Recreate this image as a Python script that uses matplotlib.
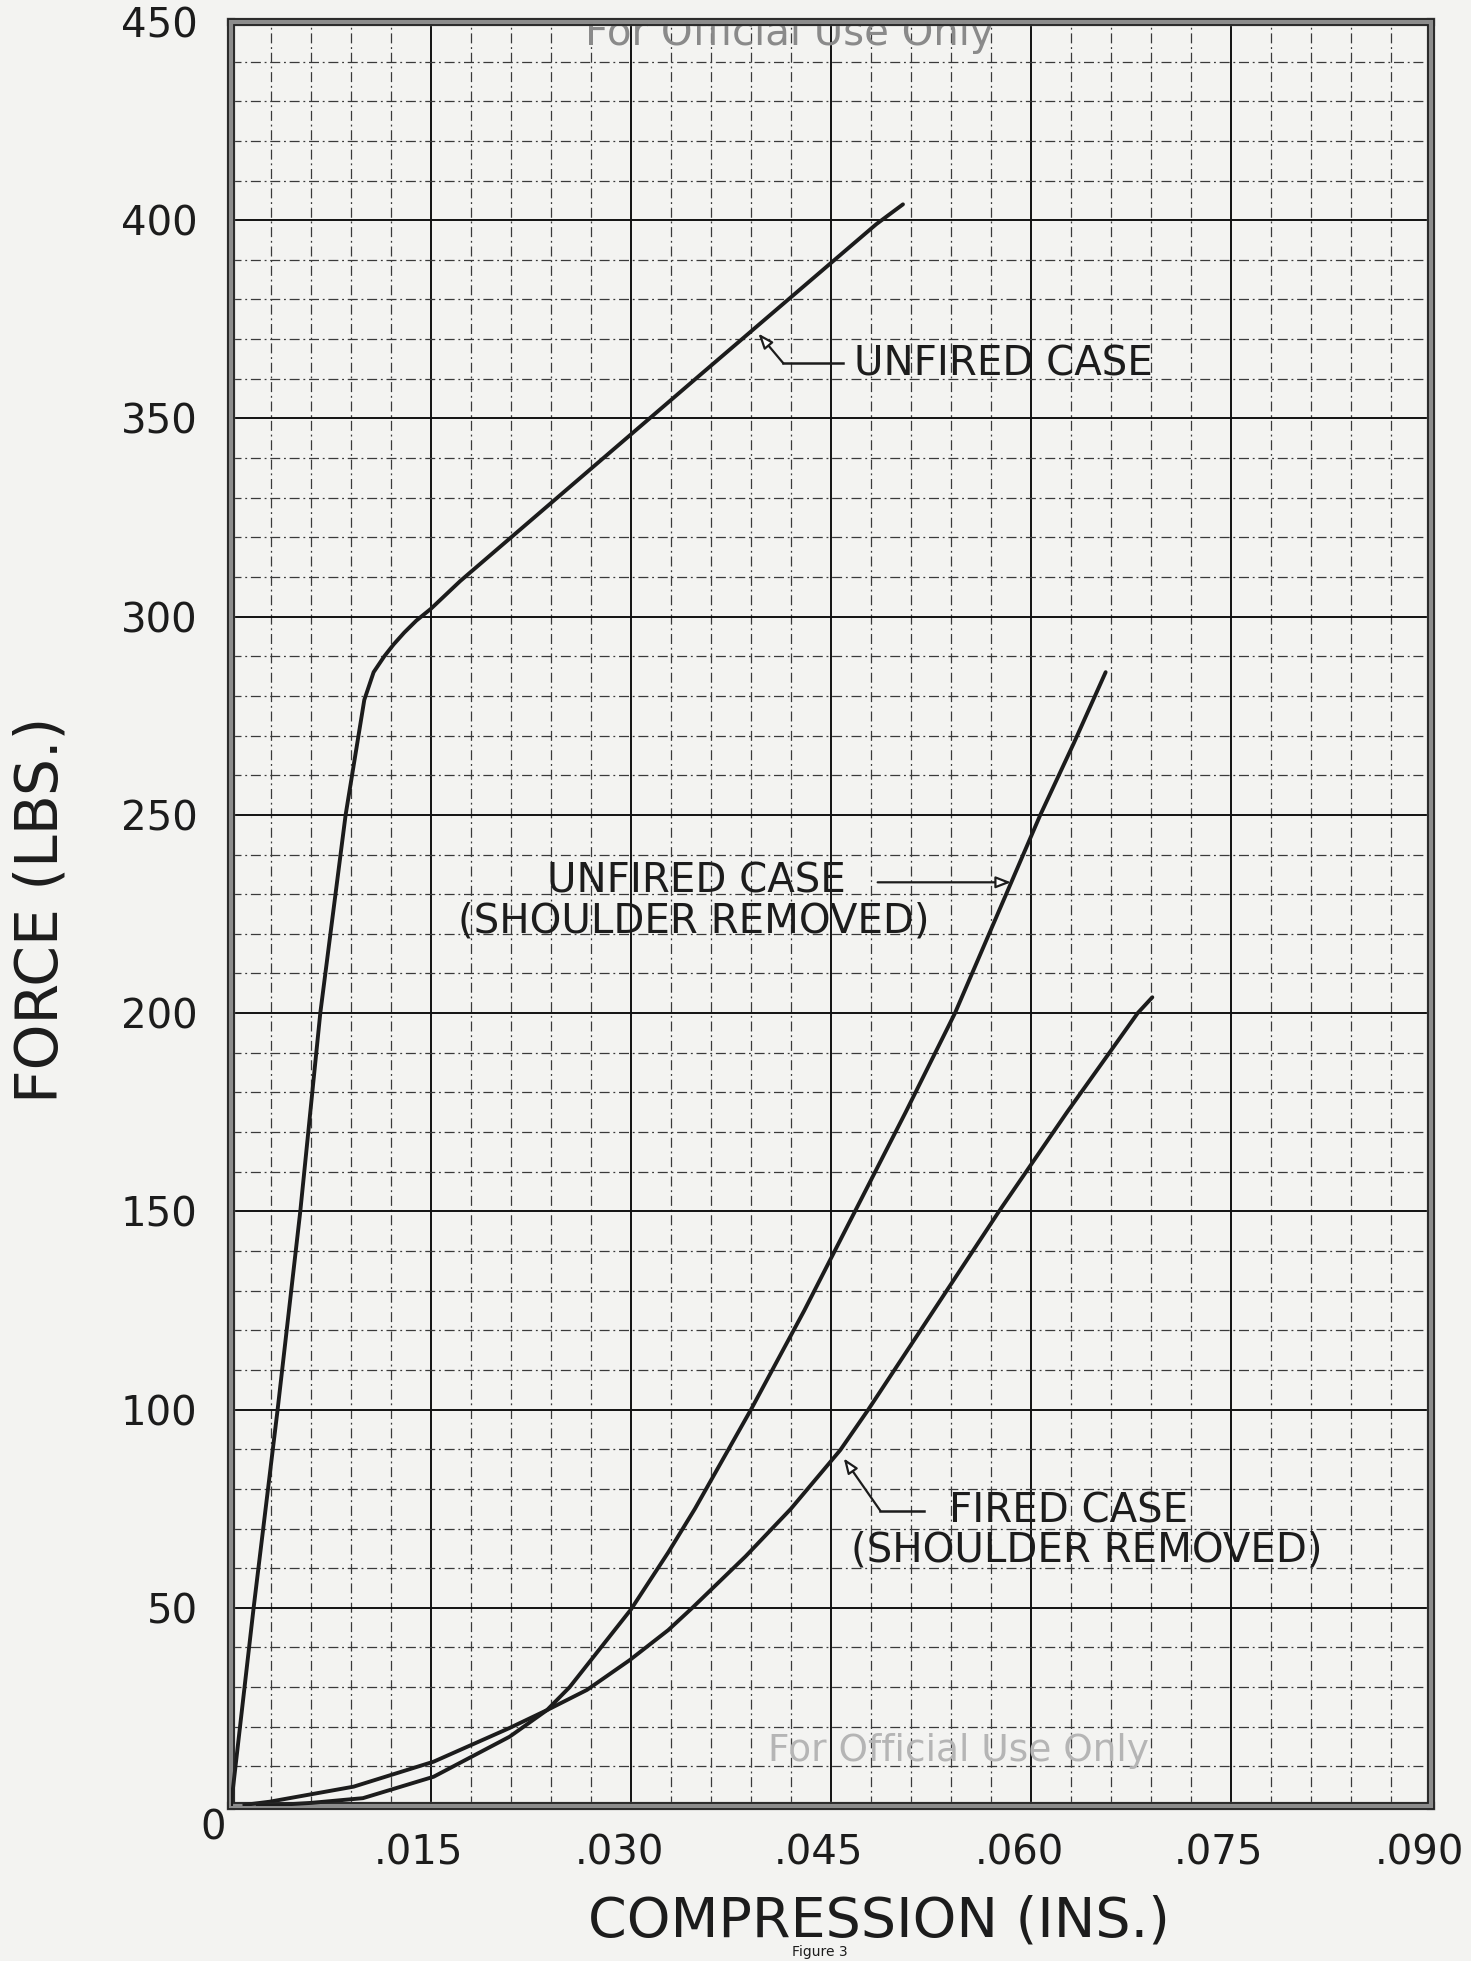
import matplotlib
matplotlib.use("Agg")
import matplotlib.pyplot as plt
import matplotlib.transforms as mtransforms
from matplotlib.patches import Rectangle

# unfired case
unfired_x = [0, 0.0017, 0.0035, 0.0052, 0.0067, 0.0086, 0.0100, 0.0107, 0.0115,
             0.0122, 0.0130, 0.0139, 0.0150, 0.0172, 0.0352, 0.0484, 0.0504]
unfired_y = [0, 50, 100, 150, 200, 250, 279, 286, 290,
             293, 296, 299, 302, 309, 361, 399, 404]

# unfired case, shoulder removed
sr_x = [0.0020, 0.0060, 0.0099, 0.0152, 0.0209, 0.0237, 0.0254, 0.0300, 0.0328,
        0.0348, 0.0390, 0.0430, 0.0468, 0.0506, 0.0543, 0.0575, 0.0607, 0.0632, 0.0656]
sr_y = [0.0, 0.8, 2.0, 7.4, 17.5, 24.2, 30.0, 49.6, 64.0,
        75, 100, 125, 150, 175, 200, 225, 250, 268, 286]

# fired case, shoulder removed
fired_x = [0.0010, 0.0029, 0.0092, 0.0152, 0.0209, 0.0237, 0.0267, 0.0299, 0.0328,
           0.0346, 0.0386, 0.0420, 0.0457, 0.0478, 0.0527, 0.0576, 0.0627, 0.0680, 0.0691]
fired_y = [0.3, 1.1, 4.9, 11.2, 19.7, 24.2, 29.3, 36.8, 44.4,
           50, 63, 75, 89.8, 100, 125, 150, 175, 200, 204]

x_ticks = [0.015, 0.030, 0.045, 0.060, 0.075, 0.090]
x_labels = [".015", ".030", ".045", ".060", ".075", ".090"]
y_ticks = [50, 100, 150, 200, 250, 300, 350, 400, 450]

paper = "#f3f3f1"
ink = "#1c1c1c"

fig = plt.figure(figsize=(14.71, 19.61), dpi=100, facecolor=paper)
ax = fig.add_axes([0.1570, 0.0790, 0.8158, 0.9098], facecolor=paper)
ax.set_xlim(0, 0.090)
ax.set_ylim(0, 450)

ax.set_xticks(x_ticks)
ax.set_xticklabels(x_labels)
ax.set_yticks(y_ticks)
ax.set_xticks([i * 0.003 for i in range(31)], minor=True)
ax.set_yticks(range(0, 451, 10), minor=True)
ax.tick_params(which="both", length=0)
ax.tick_params(axis="x", pad=20, labelsize=29, labelcolor=ink)
ax.tick_params(axis="y", pad=24, labelsize=29, labelcolor=ink)

# nudge the x labels a little to the left, like the lettering on the sheet
shift = mtransforms.ScaledTranslation(-12 / 100, 0, fig.dpi_scale_trans)
for lab in ax.get_xticklabels():
    lab.set_transform(lab.get_transform() + shift)

ax.grid(which="major", color="#111111", lw=1.4, ls="-")
ax.grid(which="minor", color="#3a3a3a", lw=0.9, ls=(0, (8, 3, 1.5, 3)))
ax.set_axisbelow(True)

# thick double border
for s in ax.spines.values():
    s.set_linewidth(6)
    s.set_color("#8c8c8c")
ax.add_patch(Rectangle((-0.0025, -0.0017), 1.005, 1.0034, transform=ax.transAxes,
                       fill=False, ec="#222", lw=1.3, clip_on=False, zorder=5))
ax.add_patch(Rectangle((0.0025, 0.0017), 0.995, 0.9966, transform=ax.transAxes,
                       fill=False, ec="#222", lw=1.3, clip_on=False, zorder=5))

# curves
for xs, ys in [(unfired_x, unfired_y), (sr_x, sr_y), (fired_x, fired_y)]:
    ax.plot(xs, ys, color=ink, lw=2.8, zorder=4, solid_capstyle="round",
            solid_joinstyle="round")

fs = 29
arr = dict(arrowstyle="-|>,head_length=0.9,head_width=0.35", fc="white", ec=ink, lw=1.6,
           shrinkA=0, shrinkB=0)

# UNFIRED CASE
ax.text(0.0467, 363.5, "UNFIRED CASE", fontsize=fs, color=ink, ha="left", va="center")
ax.plot([0.0459, 0.04143], [363.9, 363.9], color=ink, lw=1.8, zorder=4)
ax.annotate("", xy=(0.03956, 371.4), xytext=(0.04143, 363.9), arrowprops=arr, zorder=4)

# UNFIRED CASE (SHOULDER REMOVED)
ax.text(0.0349, 233.3, "UNFIRED CASE", fontsize=fs, color=ink, ha="center", va="center")
ax.text(0.0347, 223.0, "(SHOULDER REMOVED)", fontsize=fs, color=ink, ha="center", va="center")
ax.annotate("", xy=(0.0585, 233.0), xytext=(0.0485, 233.0), arrowprops=arr, zorder=4)

# FIRED CASE (SHOULDER REMOVED)
ax.text(0.0628, 74.4, "FIRED CASE", fontsize=fs, color=ink, ha="center", va="center")
ax.text(0.0642, 64.5, "(SHOULDER REMOVED)", fontsize=fs, color=ink, ha="center", va="center")
ax.plot([0.0520, 0.0487], [74.5, 74.5], color=ink, lw=1.8, zorder=4)
ax.annotate("", xy=(0.04596, 87.7), xytext=(0.0487, 74.5), arrowprops=arr, zorder=4)

# faded stamps
ax.text(0.0419, 447, "For Official Use Only", fontsize=29, color="#8a8a8a",
        ha="center", va="center", clip_on=True, zorder=3)
ax.text(0.0546, 13.9, "For Official Use Only", fontsize=27, color="#b5b5b5",
        ha="center", va="center", zorder=3)

# axis titles
fig.text(213 / 1471, 1 - 1829 / 1961, "0", fontsize=29, color=ink, ha="center", va="center")
fig.text(879 / 1471, 1 - 1921 / 1961, "COMPRESSION (INS.)", fontsize=40, color=ink,
         ha="center", va="center")
fig.text(41 / 1471, 1 - 910 / 1961, "FORCE (LBS.)", fontsize=42, color=ink,
         ha="center", va="center", rotation=90)
fig.text(0.557, 0.001, "Figure 3", fontsize=10, color=ink, ha="center", va="bottom")

fig.savefig("out.png", dpi=100, facecolor=paper)
